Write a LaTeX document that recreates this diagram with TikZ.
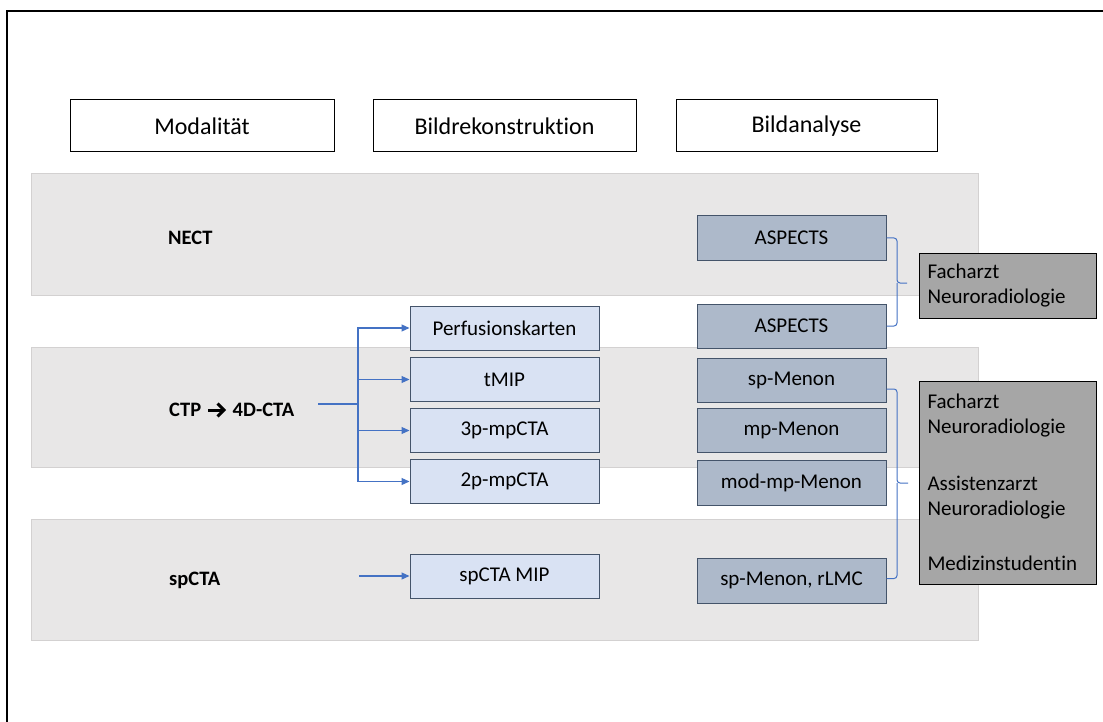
\documentclass[tikz,border=0pt]{standalone}
\usepackage{fontspec}
\setmainfont{Carlito}[Ligatures={NoCommon}]
\usetikzlibrary{arrows.meta}
\definecolor{bandfill}{HTML}{E8E7E7}
\definecolor{banddraw}{HTML}{D3D1D1}
\definecolor{recfill}{HTML}{D9E2F3}
\definecolor{anafill}{HTML}{ADB9CA}
\definecolor{boxdraw}{HTML}{44546A}
\definecolor{grayfill}{HTML}{A6A6A6}
\definecolor{linkblue}{HTML}{4472C4}
\tikzset{
  hdr/.style={draw=black, line width=1pt, fill=white, minimum width=263pt, minimum height=52pt, inner sep=0pt, font=\fontsize{24}{28}\selectfont},
  band/.style={draw=banddraw, line width=1pt, fill=bandfill, minimum width=947pt, inner sep=0pt},
  recbox/.style={draw=boxdraw, line width=1pt, fill=recfill, minimum width=189pt, minimum height=44pt, inner sep=0pt, font=\fontsize{21}{25}\selectfont},
  anabox/.style={draw=boxdraw, line width=1pt, fill=anafill, minimum width=189pt, minimum height=44pt, inner sep=0pt, font=\fontsize{21}{25}\selectfont},
  graybox/.style={draw=black, line width=1pt, fill=grayfill, minimum width=177pt, inner sep=0pt, text width=160pt, align=left, font=\fontsize{21}{25}\selectfont},
  modlabel/.style={anchor=west, inner sep=0pt, font=\bfseries\fontsize{20.5}{24}\selectfont},
  link/.style={draw=linkblue, line width=1.2pt, -{Triangle[length=8pt,width=7pt]}},
  plainlink/.style={draw=linkblue, line width=1.2pt},
  brace/.style={draw=linkblue, line width=1pt, rounded corners=3pt},
  chevron/.style={draw=black, line width=3pt, miter limit=10}
}
\begin{document}
\begin{tikzpicture}[x=1pt,y=-1pt]
\useasboundingbox (0,0) rectangle (1103,722);
\clip (0,0) rectangle (1103,722);
\fill[white] (0,0) rectangle (1103,722);
\draw[black, line width=1.4pt] (7,11) rectangle (1120,740);

% headers
\node[hdr, minimum width=264pt] (h1) at (202,126) {Modalität};
\node[hdr] (h2) at (504.5,126) {Bildrekonstruktion};
\node[hdr, minimum width=261pt] (h3) at (806.5,126) {Bildanalyse};

% bands
\node[band, minimum height=121pt] (b1) at (504.5,234.5) {};
\node[band, minimum height=120pt] (b2) at (504.5,407) {};
\node[band, minimum height=121pt] (b3) at (504.5,579.5) {};

% modality labels
\node[modlabel] (nect) at (168,238) {NECT};
\node[modlabel] (ctpa) at (169,410) {CTP};
\node[modlabel] (ctpb) at (232.5,410) {4D-CTA};
\draw[chevron] (208,410) -- (223,410);
\draw[chevron] (217.5,403.5) -- (224,410) -- (217.5,416.5);
\node[modlabel] (spcta) at (169,580) {spCTA};

% reconstruction boxes
\node[recbox] (r1) at (504.5,328) {Perfusionskarten};
\node[recbox] (r2) at (504.5,379.5) {tMIP};
\node[recbox] (r3) at (504.5,430.5) {3p-mpCTA};
\node[recbox] (r4) at (504.5,481.5) {2p-mpCTA};
\node[recbox] (r5) at (504.5,576) {spCTA MIP};

% analysis boxes
\node[anabox] (a1) at (791.5,238) {ASPECTS};
\node[anabox] (a2) at (791.5,326) {ASPECTS};
\node[anabox] (a3) at (791.5,380) {sp-Menon};
\node[anabox] (a4) at (791.5,430.5) {mp-Menon};
\node[anabox, minimum height=45pt] (a5) at (791.5,482.5) {mod-mp-Menon};
\node[anabox, minimum height=45pt] (a6) at (791.5,580.5) {sp-Menon, rLMC};

% reader boxes
\node[graybox, minimum height=65pt] (g1) at (1007.5,285.5) {Facharzt\\Neuroradiologie};
\node[graybox, minimum height=203pt] (g2) at (1007.5,482.5) {Facharzt\\Neuroradiologie\\[32pt]Assistenzarzt\\Neuroradiologie\\[30pt]Medizinstudentin};

% connectors: CTP fan
\coordinate (ctpout) at (318,404);
\coordinate (fan) at (358,404);
\draw[plainlink] (ctpout) -- (fan);
\draw[link] (fan) |- (r1.west);
\draw[link] (fan) |- (r2.west);
\draw[link] (fan) |- (r3.west);
\draw[link] (fan) |- (r4.west);
\coordinate (spout) at (359,576);
\draw[link] (spout) -- (r5.west);

% braces
\coordinate (bj1) at (897,283);
\coordinate (bt1) at (907,283);
\draw[brace] (a1.east) -| (bj1) -- (bt1);
\draw[brace] (a2.east) -| (bj1);
\coordinate (bj2) at (897,483);
\coordinate (bt2) at (908,483);
\draw[brace] ([yshift=-9pt]a3.east) -| (bj2) -- (bt2);
\draw[brace] ([yshift=2pt]a6.east) -| (bj2);
\end{tikzpicture}
\end{document}
